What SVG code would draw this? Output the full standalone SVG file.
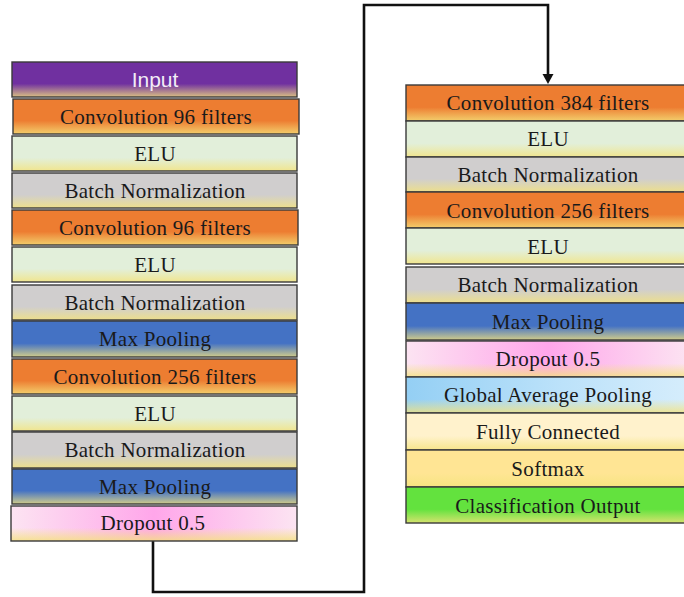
<svg xmlns="http://www.w3.org/2000/svg" width="684" height="597" viewBox="0 0 684 597">
<defs>
<style>
.box{stroke:#3a3a3a;stroke-width:1.4}
.sheen{fill:url(#sheen)}
.t{font-family:"Liberation Serif","Times New Roman",serif;font-size:21px;letter-spacing:0.3px;fill:#1a1a1a;text-anchor:middle}
.ts{font-family:"Liberation Sans",Arial,sans-serif;font-size:21px;fill:#f2ecf6;text-anchor:middle}
.conv{fill:#ED7D31}
.elu{fill:#E2EFDA}
.bn{fill:#D0CECE}
.mp{fill:#4472C4}
.inp{fill:#7030A0}
.drop{fill:url(#pink)}
.gap{fill:url(#lblue)}
.fc{fill:#FFF2CC}
.soft{fill:#FFE594}
.cls{fill:#63E23E}
.wire{fill:none;stroke:#111;stroke-width:2.6;stroke-linejoin:miter}
</style>
<linearGradient id="sheen" x1="0" y1="0" x2="0" y2="1">
<stop offset="0" stop-color="#F4E680" stop-opacity="0"/>
<stop offset="0.62" stop-color="#F4E680" stop-opacity="0"/>
<stop offset="1" stop-color="#F4E27A" stop-opacity="0.8"/>
</linearGradient>
<linearGradient id="pink" x1="0" y1="0" x2="1" y2="0">
<stop offset="0" stop-color="#FCE4F2"/>
<stop offset="0.5" stop-color="#FFA6EA"/>
<stop offset="1" stop-color="#FCE4F2"/>
</linearGradient>
<linearGradient id="lblue" x1="0" y1="0" x2="1" y2="0">
<stop offset="0" stop-color="#94CFF4"/>
<stop offset="0.55" stop-color="#BCE2FA"/>
<stop offset="1" stop-color="#D6EDFC"/>
</linearGradient>
<marker id="arr" markerUnits="userSpaceOnUse" markerWidth="12" markerHeight="12" viewBox="0 0 12 12" refX="6" refY="10" orient="auto-start-reverse">
<path d="M0,0 L12,0 L6,10 Z" fill="#111"/>
</marker>
</defs>
<rect width="684" height="597" fill="#ffffff"/>

<g id="connectors">
<path class="wire" d="M153,541 V592 H364 V5 H548 V74"/>
<path d="M542.5,74 L553.5,74 L548,84 Z" fill="#111"/>
</g>

<g id="left-column">
<g id="l-input"><rect class="inp" x="12" y="62" width="285" height="35"/><rect class="sheen" x="12" y="62" width="285" height="35"/><rect class="box" fill="none" x="12" y="62" width="285" height="35"/><text class="ts" x="155" y="87">Input</text></g>
<g id="l-conv1"><rect class="conv" x="13" y="99" width="286" height="35"/><rect class="sheen" x="13" y="99" width="286" height="35"/><rect class="box" fill="none" x="13" y="99" width="286" height="35"/><text class="t" x="156" y="124">Convolution 96 filters</text></g>
<g id="l-elu1"><rect class="elu" x="12" y="136" width="285" height="35"/><rect class="sheen" x="12" y="136" width="285" height="35"/><rect class="box" fill="none" x="12" y="136" width="285" height="35"/><text class="t" x="155" y="161">ELU</text></g>
<g id="l-bn1"><rect class="bn" x="12" y="173" width="285" height="35"/><rect class="sheen" x="12" y="173" width="285" height="35"/><rect class="box" fill="none" x="12" y="173" width="285" height="35"/><text class="t" x="155" y="198">Batch Normalization</text></g>
<g id="l-conv2"><rect class="conv" x="12" y="210" width="286" height="35"/><rect class="sheen" x="12" y="210" width="286" height="35"/><rect class="box" fill="none" x="12" y="210" width="286" height="35"/><text class="t" x="155" y="235">Convolution 96 filters</text></g>
<g id="l-elu2"><rect class="elu" x="12" y="247" width="285" height="35"/><rect class="sheen" x="12" y="247" width="285" height="35"/><rect class="box" fill="none" x="12" y="247" width="285" height="35"/><text class="t" x="155" y="272">ELU</text></g>
<g id="l-bn2"><rect class="bn" x="12" y="285" width="285" height="35"/><rect class="sheen" x="12" y="285" width="285" height="35"/><rect class="box" fill="none" x="12" y="285" width="285" height="35"/><text class="t" x="155" y="310">Batch Normalization</text></g>
<g id="l-mp1"><rect class="mp" x="12" y="321" width="285" height="36"/><rect class="sheen" x="12" y="321" width="285" height="36"/><rect class="box" fill="none" x="12" y="321" width="285" height="36"/><text class="t" x="155" y="346">Max Pooling</text></g>
<g id="l-conv3"><rect class="conv" x="12" y="359" width="285" height="35"/><rect class="sheen" x="12" y="359" width="285" height="35"/><rect class="box" fill="none" x="12" y="359" width="285" height="35"/><text class="t" x="155" y="384">Convolution 256 filters</text></g>
<g id="l-elu3"><rect class="elu" x="12" y="396" width="285" height="35"/><rect class="sheen" x="12" y="396" width="285" height="35"/><rect class="box" fill="none" x="12" y="396" width="285" height="35"/><text class="t" x="155" y="421">ELU</text></g>
<g id="l-bn3"><rect class="bn" x="12" y="432" width="285" height="36"/><rect class="sheen" x="12" y="432" width="285" height="36"/><rect class="box" fill="none" x="12" y="432" width="285" height="36"/><text class="t" x="155" y="457">Batch Normalization</text></g>
<g id="l-mp2"><rect class="mp" x="12" y="469" width="285" height="35"/><rect class="sheen" x="12" y="469" width="285" height="35"/><rect class="box" fill="none" x="12" y="469" width="285" height="35"/><text class="t" x="155" y="494">Max Pooling</text></g>
<g id="l-drop"><rect class="drop" x="11" y="506" width="286" height="35"/><rect class="sheen" x="11" y="506" width="286" height="35"/><rect class="box" fill="none" x="11" y="506" width="286" height="35"/><text class="t" x="153" y="530">Dropout 0.5</text></g>
</g>

<g id="right-column">
<g id="r-conv1"><rect class="conv" x="406" y="85" width="284" height="36"/><rect class="sheen" x="406" y="85" width="284" height="36"/><rect class="box" fill="none" x="406" y="85" width="284" height="36"/><text class="t" x="548" y="110">Convolution 384 filters</text></g>
<g id="r-elu1"><rect class="elu" x="406" y="121" width="284" height="36"/><rect class="sheen" x="406" y="121" width="284" height="36"/><rect class="box" fill="none" x="406" y="121" width="284" height="36"/><text class="t" x="548" y="146">ELU</text></g>
<g id="r-bn1"><rect class="bn" x="406" y="157" width="284" height="35"/><rect class="sheen" x="406" y="157" width="284" height="35"/><rect class="box" fill="none" x="406" y="157" width="284" height="35"/><text class="t" x="548" y="182">Batch Normalization</text></g>
<g id="r-conv2"><rect class="conv" x="406" y="192" width="284" height="36"/><rect class="sheen" x="406" y="192" width="284" height="36"/><rect class="box" fill="none" x="406" y="192" width="284" height="36"/><text class="t" x="548" y="218">Convolution 256 filters</text></g>
<g id="r-elu2"><rect class="elu" x="406" y="228" width="284" height="36"/><rect class="sheen" x="406" y="228" width="284" height="36"/><rect class="box" fill="none" x="406" y="228" width="284" height="36"/><text class="t" x="548" y="254">ELU</text></g>
<g id="r-bn2"><rect class="bn" x="406" y="267" width="284" height="36"/><rect class="sheen" x="406" y="267" width="284" height="36"/><rect class="box" fill="none" x="406" y="267" width="284" height="36"/><text class="t" x="548" y="292">Batch Normalization</text></g>
<g id="r-mp"><rect class="mp" x="406" y="303" width="284" height="37"/><rect class="sheen" x="406" y="303" width="284" height="37"/><rect class="box" fill="none" x="406" y="303" width="284" height="37"/><text class="t" x="548" y="329">Max Pooling</text></g>
<g id="r-drop"><rect class="drop" x="406" y="341" width="284" height="36"/><rect class="sheen" x="406" y="341" width="284" height="36"/><rect class="box" fill="none" x="406" y="341" width="284" height="36"/><text class="t" x="548" y="366">Dropout 0.5</text></g>
<g id="r-gap"><rect class="gap" x="406" y="377" width="284" height="36"/><rect class="sheen" x="406" y="377" width="284" height="36"/><rect class="box" fill="none" x="406" y="377" width="284" height="36"/><text class="t" x="548" y="402">Global Average Pooling</text></g>
<g id="r-fc"><rect class="fc" x="406" y="413" width="284" height="37"/><rect class="sheen" x="406" y="413" width="284" height="37"/><rect class="box" fill="none" x="406" y="413" width="284" height="37"/><text class="t" x="548" y="439">Fully Connected</text></g>
<g id="r-soft"><rect class="soft" x="406" y="450" width="284" height="37"/><rect class="sheen" x="406" y="450" width="284" height="37"/><rect class="box" fill="none" x="406" y="450" width="284" height="37"/><text class="t" x="548" y="476">Softmax</text></g>
<g id="r-cls"><rect class="cls" x="406" y="487" width="284" height="36"/><rect class="sheen" x="406" y="487" width="284" height="36"/><rect class="box" fill="none" x="406" y="487" width="284" height="36"/><text class="t" x="548" y="513">Classification Output</text></g>
</g>
</svg>
